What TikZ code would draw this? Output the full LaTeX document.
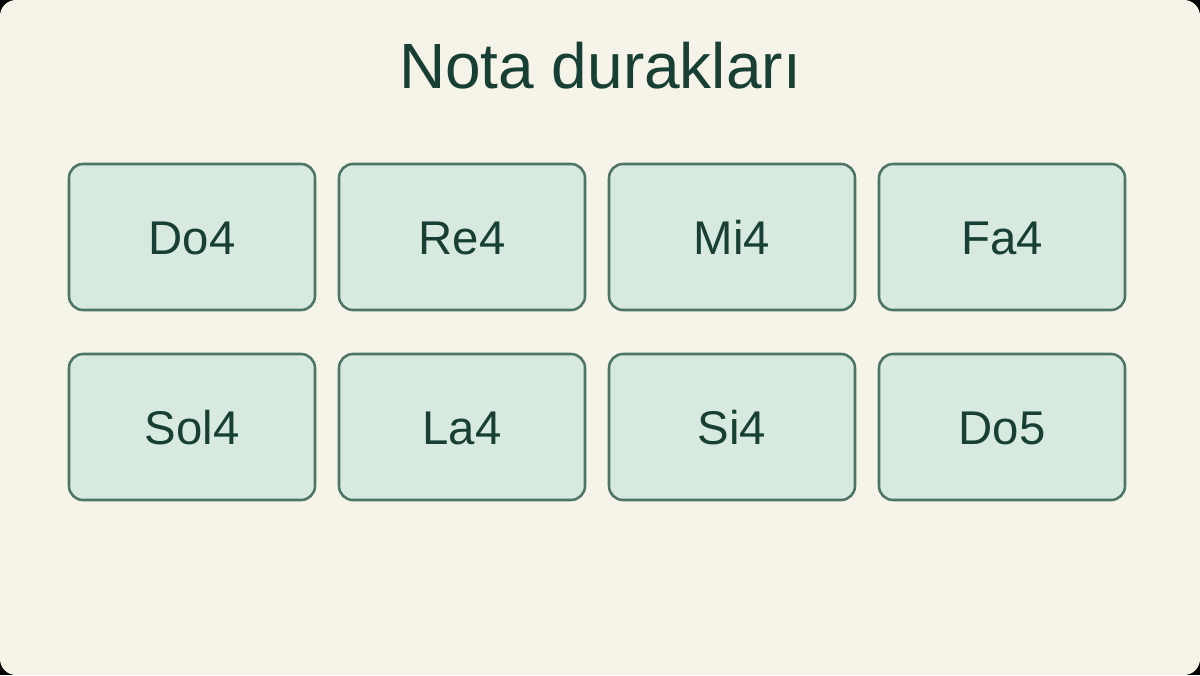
\documentclass[tikz,border=0pt]{standalone}
\usepackage{fontspec}
\setmainfont{Liberation Sans}
\definecolor{bgc}{HTML}{F6F3E9}
\definecolor{boxfill}{HTML}{D8E9E0}
\definecolor{boxline}{HTML}{4D7565}
\definecolor{txt}{HTML}{173F33}
\begin{document}
\begin{tikzpicture}[x=0.75pt,y=-0.75pt,
  note/.style={draw=boxline,fill=boxfill,line width=1.9pt,rounded corners=10.5pt,
    minimum width=184.5pt,minimum height=109.5pt,inner sep=0pt,
    text height=25.5pt,text depth=0pt,
    text=txt,font=\fontsize{35.5pt}{40pt}\selectfont},
  titlestyle/.style={text=txt,font=\fontsize{48pt}{56pt}\selectfont,inner sep=0pt}]
\useasboundingbox (0,0) rectangle (1200,675);
\fill[black] (0,0) rectangle (1200,675);
\fill[bgc,rounded corners=12pt] (0,0) rectangle (1200,675);
\node[titlestyle,anchor=base] (title) at (600,88) {Nota durakları};
\node[note] (do4) at (192,237) {Do4};
\node[note] (re4) at (462,237) {Re4};
\node[note] (mi4) at (732,237) {Mi4};
\node[note] (fa4) at (1002,237) {Fa4};
\node[note] (sol4) at (192,427) {Sol4};
\node[note] (la4) at (462,427) {La4};
\node[note] (si4) at (732,427) {Si4};
\node[note] (do5) at (1002,427) {Do5};
\end{tikzpicture}
\end{document}
